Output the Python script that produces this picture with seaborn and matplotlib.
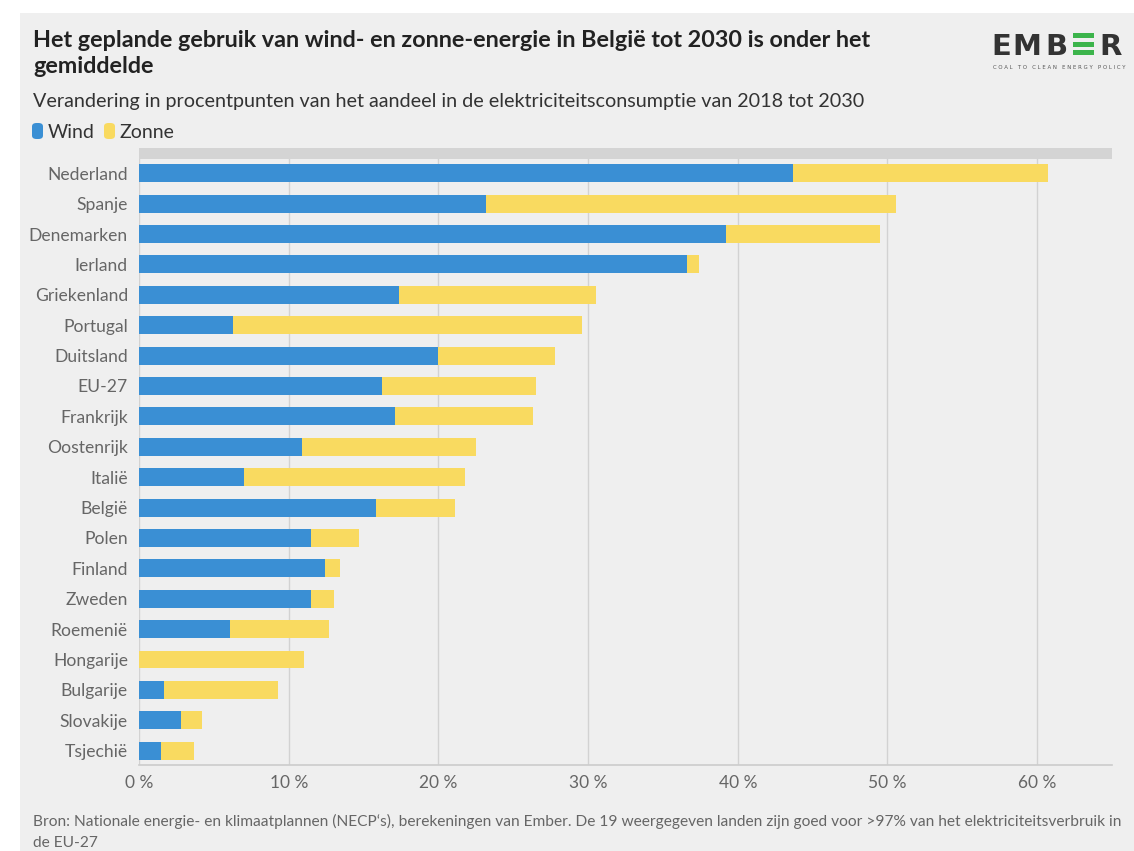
import matplotlib
matplotlib.use("Agg")
import matplotlib.pyplot as plt
import numpy as np
import pandas as pd
import seaborn as sns
from matplotlib.patches import Rectangle, FancyBboxPatch

# ---- data ----
countries = ["Nederland", "Spanje", "Denemarken", "Ierland", "Griekenland", "Portugal",
             "Duitsland", "EU-27", "Frankrijk", "Oostenrijk", "Italië", "België",
             "Polen", "Finland", "Zweden", "Roemenië", "Hongarije", "Bulgarije",
             "Slovakije", "Tsjechië"]
wind = [43.7, 23.2, 39.2, 36.6, 17.4, 6.3, 20.0, 16.2, 17.1, 10.9, 7.0, 15.8,
        11.5, 12.4, 11.5, 6.1, 0.0, 1.7, 2.8, 1.5]
zonne = [17.0, 27.4, 10.3, 0.8, 13.1, 23.3, 7.8, 10.3, 9.2, 11.6, 14.8, 5.3,
         3.2, 1.0, 1.5, 6.6, 11.0, 7.6, 1.4, 2.2]
x_ticks = [0, 10, 20, 30, 40, 50, 60]
x_ticklabels = ["0 %", "10 %", "20 %", "30 %", "40 %", "50 %", "60 %"]
series_names = ["Wind", "Zonne"]

title = "Het geplande gebruik van wind- en zonne-energie in België tot 2030 is onder het\ngemiddelde"
subtitle = "Verandering in procentpunten van het aandeel in de elektriciteitsconsumptie van 2018 tot 2030"
source = ("Bron: Nationale energie- en klimaatplannen (NECP‘s), berekeningen van Ember. "
          "De 19 weergegeven landen zijn goed voor >97% van het elektriciteitsverbruik in\nde EU-27")

BLUE = "#3a8fd4"
YELLOW = "#f9da60"
BG = "#efefef"
TXT = "#666666"

df = pd.DataFrame({"land": countries, "wind": wind, "zonne": zonne})
df["totaal"] = df["wind"] + df["zonne"]

sns.set_theme(style="white")
plt.rcParams["font.family"] = ["Lato", "DejaVu Sans"]

W, H = 1134, 851
fig = plt.figure(figsize=(W / 100, H / 100), dpi=100)
fig.patch.set_facecolor("white")

def fx(px):
    return px / W

def fy(py):
    return 1 - py / H

# panel background
fig.patches.append(Rectangle((fx(20), 0), 1 - fx(20), fy(13), transform=fig.transFigure,
                             facecolor=BG, edgecolor="none", zorder=-10))

ax = fig.add_axes([fx(139), fy(765), fx(1112) - fx(139), fy(148) - fy(765)])
ax.patch.set_alpha(0)

sns.barplot(data=df, x="totaal", y="land", orient="h", color=YELLOW, saturation=1,
            width=0.59, ax=ax, zorder=2, linewidth=0)
sns.barplot(data=df, x="wind", y="land", orient="h", color=BLUE, saturation=1,
            width=0.59, ax=ax, zorder=2, linewidth=0)

ax.set_xlim(0, 65)
ax.set_ylim(19.47, -0.83)
ax.axhspan(-0.83, -0.46, color="#d4d4d4", zorder=4, lw=0)

ax.set_xticks(x_ticks)
ax.set_xticklabels(x_ticklabels, fontsize=12.5, color=TXT)
ax.tick_params(axis="x", direction="out", length=5, width=1, color="#cccccc", pad=2)
ax.tick_params(axis="y", length=0, pad=8, labelsize=12.6, labelcolor=TXT)
ax.xaxis.grid(True, color="#d2d2d2", lw=1, zorder=0)
ax.set_axisbelow(True)
for s in ["top", "right", "left"]:
    ax.spines[s].set_visible(False)
ax.spines["bottom"].set_color("#cccccc")
ax.spines["bottom"].set_linewidth(1.2)
ax.set_xlabel("")
ax.set_ylabel("")

# titles
tl = title.split("\n")
fig.text(fx(33), fy(47), tl[0], fontsize=16.85, fontweight="bold",
         color="#222222", va="baseline", ha="left")
fig.text(fx(33), fy(73), tl[1], fontsize=16.85, fontweight="bold",
         color="#222222", va="baseline", ha="left")
fig.text(fx(33), fy(107), subtitle, fontsize=14.2, color="#333333", va="baseline", ha="left")

# legend (manual)
for (x0, x1), col, name, tx in [((32, 43), BLUE, series_names[0], 48),
                                ((104, 115), YELLOW, series_names[1], 120)]:
    fig.patches.append(FancyBboxPatch((fx(x0), fy(139)), fx(x1) - fx(x0), fy(123) - fy(139),
                                      boxstyle="round,pad=0,rounding_size=0.004",
                                      transform=fig.transFigure, facecolor=col,
                                      edgecolor="none"))
    fig.text(fx(tx), fy(138), name, fontsize=14, color="#333333", va="baseline", ha="left")

# source
lines = source.split("\n")
fig.text(fx(33), fy(826), lines[0], fontsize=11.2, color=TXT, va="baseline", ha="left")
fig.text(fx(33), fy(847), lines[1], fontsize=11.2, color=TXT, va="baseline", ha="left")

# EMBER logo
logo_font = dict(fontsize=21, fontweight="bold", color="#333333", family="DejaVu Sans",
                 va="baseline", ha="left")
for letter, xpos in [("E", 991), ("M", 1012), ("B", 1045)]:
    fig.text(fx(xpos), fy(55), letter, **logo_font)
for yb in [33.5, 42, 50.5]:
    fig.patches.append(Rectangle((fx(1073), fy(yb + 4.5)), fx(1094) - fx(1073), fy(yb) - fy(yb + 4.5),
                                 transform=fig.transFigure, facecolor="#3cb44b",
                                 edgecolor="none"))
fig.text(fx(1099), fy(55), "R", **logo_font)
fig.text(fx(1059), fy(69), "C O A L   T O   C L E A N   E N E R G Y   P O L I C Y", fontsize=3.9,
         color="#555555", family="DejaVu Sans", ha="center", va="baseline")

fig.savefig("out.png", dpi=100, facecolor=fig.get_facecolor())
